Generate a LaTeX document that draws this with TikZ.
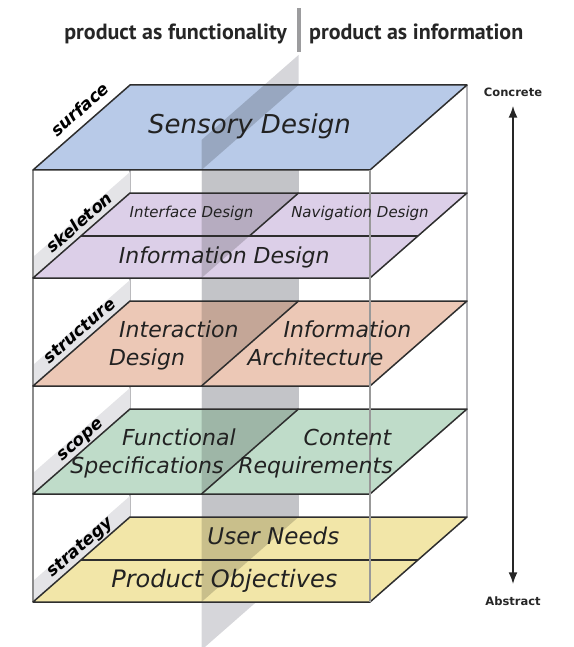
\documentclass[tikz,border=0pt]{standalone}
\usepackage{fontspec}
\usepackage{graphicx}
\setmainfont{DejaVu Sans}
\newfontfamily\titlefont{PT Sans}
\usetikzlibrary{arrows.meta}
\definecolor{surfc}{HTML}{B8CAE8}
\definecolor{skelc}{HTML}{DCCFE8}
\definecolor{strucc}{HTML}{ECC8B6}
\definecolor{scopec}{HTML}{BFDCC9}
\definecolor{stratc}{HTML}{F2E6A8}
\definecolor{vplanec}{HTML}{C3C4C8}
\definecolor{vplanelt}{HTML}{D6D6DA}
\definecolor{edgec}{HTML}{2E2E2E}
\definecolor{postc}{HTML}{B4B4B8}
\definecolor{bandc}{HTML}{E4E4E7}
\definecolor{barc}{HTML}{9C9C9E}
\definecolor{txtc}{HTML}{222222}
\begin{document}
\begin{tikzpicture}[x=1pt,y=-1pt,
  planeedge/.style={draw=edgec,line width=1.5pt,line join=round},
  shadeover/.style={fill=black,fill opacity=0.17},
  postline/.style={draw=postc,line width=2pt},
  planetxt/.style={anchor=mid,inner sep=0pt,text=txtc,font=\itshape\fontsize{22}{24}\selectfont},
  smalltxt/.style={anchor=mid,inner sep=0pt,text=txtc,font=\itshape\fontsize{15}{17}\selectfont},
  layerlabel/.style={anchor=mid,inner sep=0pt,rotate=41.2,text=black,font=\bfseries\itshape\fontsize{17}{19}\selectfont},
  titletxt/.style={inner sep=0pt,text=black!85,font=\titlefont\bfseries\fontsize{22}{25}\selectfont},
  axistxt/.style={inner sep=0pt,text=black!85,font=\bfseries\fontsize{11.5}{13}\selectfont}
]
\useasboundingbox (0,0) rectangle (573,647);

% title
\node[titletxt,anchor=base east] (tfun) at (287,40) {product as functionality};
\node[titletxt,anchor=base west] (tinf) at (309,40) {product as information};
\fill[barc] (296.5,8) rectangle (300.5,52);

% vertical dividing plane
\fill[vplanelt] (298.5,55) -- (298.5,565) -- (201.5,650) -- (201.5,140) -- cycle;
\fill[vplanec] (201.5,170) rectangle (298.5,517);

% back posts
\draw[postline] (130,85) -- (130,517);
\draw[postline] (467,85) -- (467,517);

% label bands on left face
\foreach \yb in {193,301,409,517}{
  \fill[bandc] (130,{\yb-21}) -- (130,\yb) -- (33,{\yb+85}) -- (33,{\yb+64}) -- cycle;
}
% front-left post
\draw[postline,draw=black!45,line width=1.6pt] (33,170) -- (33,602);

% layer fills
\foreach \yb/\col in {85/surfc,193/skelc,301/strucc,409/scopec,517/stratc}{
  \fill[\col] (130,\yb) -- (467,\yb) -- (370,{\yb+85}) -- (33,{\yb+85}) -- cycle;
}
% parts of the dividing plane standing above each layer
\fill[shadeover] (264.3,85) -- (298.5,85) -- (201.5,170) -- (201.5,140) -- cycle;
\foreach \yb in {193,301,409,517}{
  \fill[shadeover] (201.5,\yb) -- (298.5,\yb) -- (201.5,{\yb+85}) -- cycle;
}
% layer outlines and dividers
\foreach \yb in {85,193,301,409,517}{
  \draw[planeedge] (130,\yb) -- (467,\yb) -- (370,{\yb+85}) -- (33,{\yb+85}) -- cycle;
}
\draw[planeedge] (80.9,236) -- (417.9,236);
\draw[planeedge] (298.5,193) -- (249.4,236);
\draw[planeedge] (298.5,301) -- (201.5,386);
\draw[planeedge] (298.5,409) -- (201.5,494);
\draw[planeedge] (80.9,560) -- (417.9,560);

% front-right post (in front of the layers)
\draw[postline,draw=black!40,line width=1.6pt] (370,170) -- (370,602);

% layer texts
\node[planetxt,font=\itshape\fontsize{26}{28}\selectfont] (sensory) at (249.5,131) {Sensory Design};
\node[smalltxt] (iface) at (191.5,215) {Interface Design};
\node[smalltxt] (navig) at (360,215) {Navigation Design};
\node[planetxt] (infod) at (224.3,261) {Information Design};
\node[planetxt] (inter1) at (178.9,335) {Interaction};
\node[planetxt] (inter2) at (147,363) {Design};
\node[planetxt] (ia1) at (347.4,335) {Information};
\node[planetxt] (ia2) at (315.5,363) {Architecture};
\node[planetxt] (func1) at (178.9,443) {Functional};
\node[planetxt] (func2) at (147,471) {Specifications};
\node[planetxt] (cont1) at (347.4,443) {Content};
\node[planetxt] (cont2) at (315.5,471) {Requirements};
\node[planetxt,font=\itshape\fontsize{23}{25}\selectfont] (userneeds) at (273.4,542) {User Needs};
\node[planetxt,font=\itshape\fontsize{24}{26}\selectfont] (prodobj) at (224.3,585) {Product Objectives};

% layer labels
\node[layerlabel] (lsurf) at (82,112) {surface};
\node[layerlabel] (lskel) at (81.5,225) {skeleton};
\node[layerlabel] (lstru) at (81.5,333) {structure};
\node[layerlabel] (lscop) at (81.5,441) {scope};
\node[layerlabel] (lstra) at (81.5,549) {strategy};

% concrete / abstract axis
\node[axistxt] (concrete) at (513,92) {Concrete};
\node[axistxt] (abstract) at (513,601) {Abstract};
\draw[line width=2.2pt,black!85,{Latex[length=12pt,width=9pt]}-{Latex[length=12pt,width=9pt]},shorten <=9pt,shorten >=12pt] (concrete.south) -- (abstract.north);
\end{tikzpicture}
\end{document}
